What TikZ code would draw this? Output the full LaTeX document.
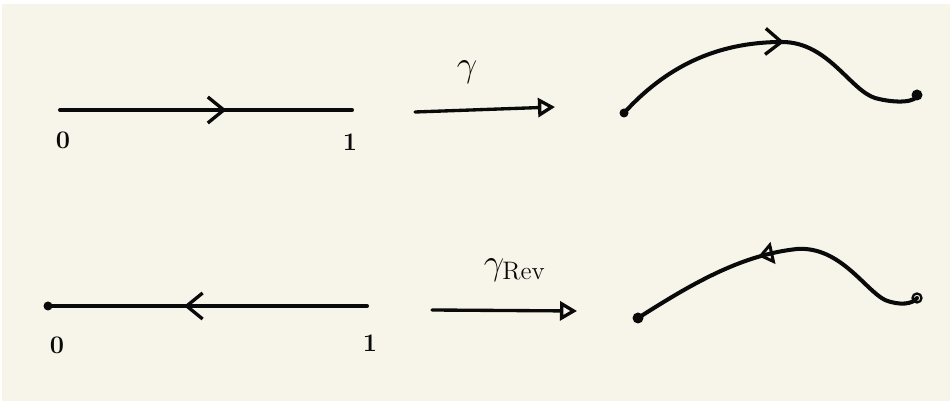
\documentclass[tikz,border=0pt]{standalone}
\usepackage{xcolor}
\usepackage{tikz}
\usetikzlibrary{arrows.meta,decorations.markings}
\definecolor{PaperCream}{HTML}{F7F5EA}
\definecolor{InkBlack}{HTML}{0A0A0A}
\tikzset{
  ink/.style={InkBlack,line width=2.3pt,line cap=round,line join=round},
  inkthin/.style={InkBlack,line width=1.9pt,line cap=round,line join=round},
  barbmid/.style={postaction={decorate},decoration={markings,
    mark=at position #1 with {\arrow[InkBlack,line width=1.9pt]{Straight Barb[length=3.2mm,width=5.2mm]}}}},
  barbback/.style={postaction={decorate},decoration={markings,
    mark=at position #1 with {\arrow[InkBlack,line width=1.9pt]{Straight Barb[length=3.2mm,width=5.2mm,reversed]}}}},
  barbrev/.style={postaction={decorate},decoration={markings,
    mark=at position #1 with {\arrow[InkBlack,line width=1.7pt]{Triangle[open,length=3mm,width=4.4mm,reversed]}}}},
  mapsto/.style={inkthin,-{Triangle[open,length=3.4mm,width=3.8mm]}},
  digit/.style={font=\Large\bfseries,InkBlack,inner sep=0pt},
  maplabel/.style={font=\huge,InkBlack,inner sep=0pt}
}
\begin{document}
\begin{tikzpicture}[x=0.02cm,y=-0.02cm]
\path[use as bounding box] (0,0) rectangle (950,401);
\fill[white] (0,0) rectangle (950,401);
\fill[PaperCream] (2,4) rectangle (950,401);
\coordinate (ta) at (60,110);
\coordinate (tb) at (352,110);
\coordinate (ma) at (415,112);
\coordinate (mb) at (555,107);
\coordinate (ca) at (624,113);
\coordinate (cb) at (917,95);
\draw[ink,barbmid=0.57] (ta) -- (tb);
\node[digit] (t0) at (63,140) {0};
\node[digit] (t1) at (350,142) {1};
\draw[mapsto] (ma) -- (mb);
\node[maplabel] (gam) at (467,72) {$\gamma$};
\draw[ink,barbmid=0.54] (ca) .. controls (665,68) and (715,42) .. (782,42)
  .. controls (828,42) and (850,90) .. (875,98)
  .. controls (897,104) and (917,102) .. (cb);
\fill[InkBlack] (ca) circle (4.5);
\fill[InkBlack] (cb) circle (5.5);
\coordinate (ba) at (48,306);
\coordinate (bb) at (367,306);
\coordinate (na) at (432,310);
\coordinate (nb) at (577,311);
\coordinate (da) at (638,318);
\coordinate (db) at (917,298);
\draw[ink,barbback=0.49] (ba) -- (bb);
\fill[InkBlack] (ba) circle (4.5);
\node[digit] (b0) at (57,345) {0};
\node[digit] (b1) at (370,343) {1};
\draw[mapsto] (na) -- (nb);
\node[maplabel] (gamrev) at (515,270) {$\gamma_{\mathrm{Rev}}$};
\draw[ink,barbrev=0.48] (da) .. controls (690,285) and (740,255) .. (797,249)
  .. controls (840,246) and (865,290) .. (885,300)
  .. controls (900,306) and (913,304) .. (db);
\fill[InkBlack] (da) circle (5.5);
\draw[InkBlack,line width=1.3pt] (db) circle (4.5);
\end{tikzpicture}
\end{document}
